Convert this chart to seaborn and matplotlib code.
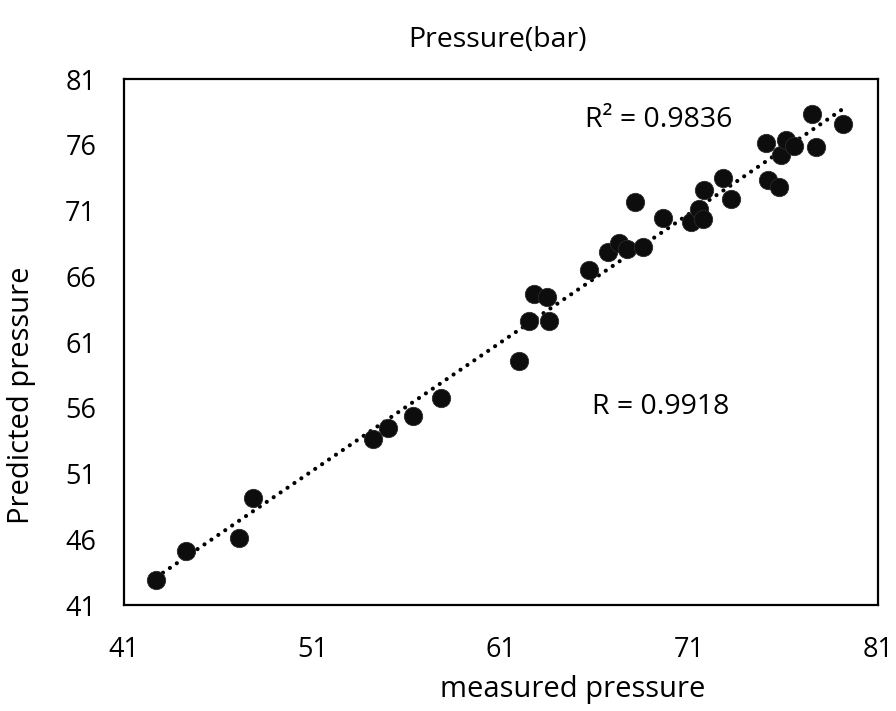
import numpy as np
import pandas as pd
import matplotlib
matplotlib.use("Agg")
import matplotlib.pyplot as plt
import seaborn as sns

# Measured vs. predicted pressure (bar)
measured = [42.70, 44.27, 47.08, 47.86, 54.19, 55.02, 56.35, 57.80, 61.95,
            62.50, 62.75, 63.42, 63.56, 65.68, 66.65, 67.26, 67.67, 68.53,
            68.11, 69.62, 71.08, 71.52, 71.73, 71.77, 72.78, 73.20, 75.06,
            75.18, 75.76, 75.87, 76.12, 76.53, 77.71, 77.48, 79.13]
predicted = [42.90, 45.13, 46.12, 49.16, 53.60, 54.48, 55.37, 56.76, 59.52,
             62.62, 64.65, 64.44, 62.62, 66.48, 67.87, 68.51, 68.11, 68.20,
             71.62, 70.41, 70.09, 71.08, 70.35, 72.56, 73.49, 71.91, 76.11,
             73.32, 72.81, 75.22, 76.38, 75.88, 75.81, 78.36, 77.60]

tick_values = [41, 51, 61, 71, 81]
y_tick_values = [41, 46, 51, 56, 61, 66, 71, 76, 81]
r2_label = "R² = 0.9836"
r_label = "R = 0.9918"

df = pd.DataFrame({"measured": measured, "predicted": predicted})

sns.set_style("white")
plt.rcParams["font.family"] = ["Open Sans", "DejaVu Sans"]
plt.rcParams["text.color"] = "black"

fig = plt.figure(figsize=(8.96, 7.11), dpi=100)
ax = fig.add_axes([124 / 896, 1 - 605 / 711, (878 - 124) / 896, (605 - 79) / 711])

# linear trendline over the data range, dotted
sns.regplot(data=df, x="measured", y="predicted", ax=ax, ci=None,
            scatter=False, truncate=True,
            line_kws=dict(color="black", linewidth=3.0,
                          linestyle=(0, (0.01, 2.0)),
                          dash_capstyle="round"))
sns.scatterplot(data=df, x="measured", y="predicted", ax=ax, s=175,
                color="#0d0d0d", edgecolor="#2a2a2a", linewidth=0.6,
                zorder=3)

ax.set_xlim(41, 81)
ax.set_ylim(41, 81)
ax.set_xticks(tick_values)
ax.set_xticklabels([str(v) for v in tick_values])
ax.set_yticks(y_tick_values)
ax.set_yticklabels([str(v) for v in y_tick_values])
ax.tick_params(axis="both", length=0, labelsize=19.5, colors="black")
ax.tick_params(axis="x", pad=22)
ax.tick_params(axis="y", pad=20)
ax.set_xlabel("")
ax.set_ylabel("")
for sp in ax.spines.values():
    sp.set_visible(True)
    sp.set_color("black")
    sp.set_linewidth(1.6)

ax.text(0.611, 0.922, r2_label, transform=ax.transAxes, ha="left",
        va="center", fontsize=20.5, color="black")
ax.text(0.621, 0.376, r_label, transform=ax.transAxes, ha="left",
        va="center", fontsize=20.5, color="black")

fig.text(497 / 896, 1 - 40 / 711, "Pressure(bar)", ha="center",
         va="center", fontsize=20.5, color="black")
fig.text(573 / 896, 1 - 690 / 711, "measured pressure", ha="center",
         va="center", fontsize=21, color="black")
fig.text(22 / 896, 1 - 395 / 711, "Predicted pressure", ha="center",
         va="center", rotation=90, fontsize=21, color="black")

fig.savefig("out.png", dpi=100, facecolor="white")
